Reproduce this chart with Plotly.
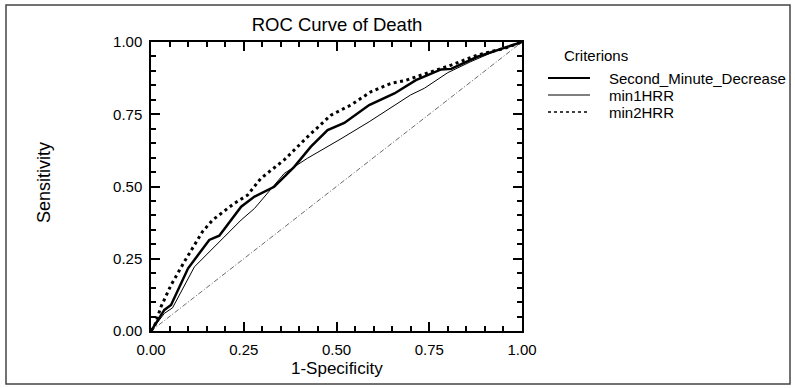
import plotly.graph_objects as go

# Data
smd_x = [0.0, 0.036, 0.054, 0.10, 0.157, 0.184, 0.243, 0.279, 0.332, 0.386, 0.431, 0.476, 0.521, 0.588, 0.656, 0.714, 0.782, 0.809, 0.88, 0.952, 1.0]
smd_y = [0.0, 0.073, 0.09, 0.217, 0.315, 0.33, 0.43, 0.465, 0.499, 0.568, 0.638, 0.695, 0.72, 0.782, 0.822, 0.868, 0.905, 0.907, 0.949, 0.978, 1.0]

m1_x = [0.0, 0.036, 0.058, 0.117, 0.243, 0.279, 0.359, 0.422, 0.512, 0.588, 0.70, 0.737, 0.80, 0.862, 0.934, 1.0]
m1_y = [0.0, 0.061, 0.08, 0.222, 0.384, 0.424, 0.545, 0.598, 0.665, 0.724, 0.817, 0.84, 0.894, 0.932, 0.972, 1.0]

m2_x = [0.0, 0.009, 0.027, 0.054, 0.09, 0.139, 0.166, 0.225, 0.26, 0.296, 0.359, 0.422, 0.485, 0.539, 0.593, 0.647, 0.683, 0.746, 0.809, 0.88, 0.952, 1.0]
m2_y = [0.0, 0.015, 0.084, 0.159, 0.24, 0.344, 0.384, 0.442, 0.47, 0.528, 0.592, 0.672, 0.747, 0.782, 0.828, 0.857, 0.866, 0.892, 0.92, 0.955, 0.978, 1.0]

ref_x = [0.0, 1.0]
ref_y = [0.0, 1.0]

series_names = ["Second_Minute_Decrease", "min1HRR", "min2HRR"]
legend_title = "Criterions"

FONT = "Liberation Sans, Arial, sans-serif"
W, H = 795, 388
L, R, T, B = 151, 273, 42, 57
PW, PH = W - L - R, H - T - B


def px(xpix):
    return (xpix - L) / PW


def py(ypix):
    return (H - B - ypix) / PH


styles = [
    dict(color="black", width=2.5),
    dict(color="black", width=1),
    dict(color="black", width=3, dash="3px,3.5px"),
]
legend_styles = [
    dict(color="black", width=2),
    dict(color="black", width=1),
    dict(color="black", width=1.5, dash="3px,3px"),
]

fig = go.Figure()
fig.add_trace(go.Scatter(x=ref_x, y=ref_y, mode="lines", showlegend=False, hoverinfo="skip",
                         line=dict(color="#444444", width=0.8, dash="5px,2px,1px,2px")))
for (xs, ys), name, st in zip([(smd_x, smd_y), (m1_x, m1_y), (m2_x, m2_y)], series_names, styles):
    fig.add_trace(go.Scatter(x=xs, y=ys, mode="lines", name=name, showlegend=False, line=st))

axis_common = dict(
    range=[0, 1], tick0=0, dtick=0.25, tickformat=".2f", tickmode="linear",
    showgrid=False, zeroline=False, showline=True, linecolor="black", linewidth=1.5,
    mirror="allticks", ticks="inside", ticklen=9, tickcolor="black", tickwidth=1.6,
    tickfont=dict(family=FONT, size=15, color="black"),
    minor=dict(dtick=0.05, tick0=0, ticks="inside", ticklen=5, tickcolor="black", tickwidth=1.6, showgrid=False),
)

shapes = [dict(type="rect", xref="paper", yref="paper",
               x0=px(6), x1=px(790), y0=py(384), y1=py(5),
               line=dict(color="#444444", width=1.5), layer="below")]
annotations = [
    dict(text=legend_title, xref="paper", yref="paper", x=px(562), y=py(56),
         xanchor="left", yanchor="middle", showarrow=False,
         font=dict(family=FONT, size=15, color="black")),
    dict(text="Sensitivity", xref="paper", yref="paper", x=px(44), y=py(183),
         xanchor="center", yanchor="middle", textangle=-90, showarrow=False,
         font=dict(family=FONT, size=18, color="black")),
    dict(text="1-Specificity", xref="paper", yref="paper", x=px(337), y=py(368),
         xanchor="center", yanchor="middle", showarrow=False,
         font=dict(family=FONT, size=17, color="black")),
]
row_y = [78, 95, 112]
for name, st, ry in zip(series_names, legend_styles, row_y):
    shapes.append(dict(type="line", xref="paper", yref="paper",
                       x0=px(548), x1=px(590), y0=py(ry), y1=py(ry), line=st))
    annotations.append(dict(text=name, xref="paper", yref="paper", x=px(607), y=py(ry),
                            xanchor="left", yanchor="middle", showarrow=False,
                            font=dict(family=FONT, size=15, color="black")))

fig.update_layout(
    width=W, height=H,
    margin=dict(l=L, r=R, t=T, b=B),
    paper_bgcolor="white", plot_bgcolor="white",
    font=dict(family=FONT, color="black"),
    showlegend=False,
    title=dict(text="ROC Curve of Death", x=337 / W, xanchor="center",
               y=1 - 25 / H, yanchor="middle", font=dict(family=FONT, size=18.5, color="black")),
    xaxis=dict(axis_common, ticklabelstandoff=4),
    yaxis=dict(axis_common, ticklabelstandoff=4),
    shapes=shapes,
    annotations=annotations,
)

fig.write_html("out.html")
